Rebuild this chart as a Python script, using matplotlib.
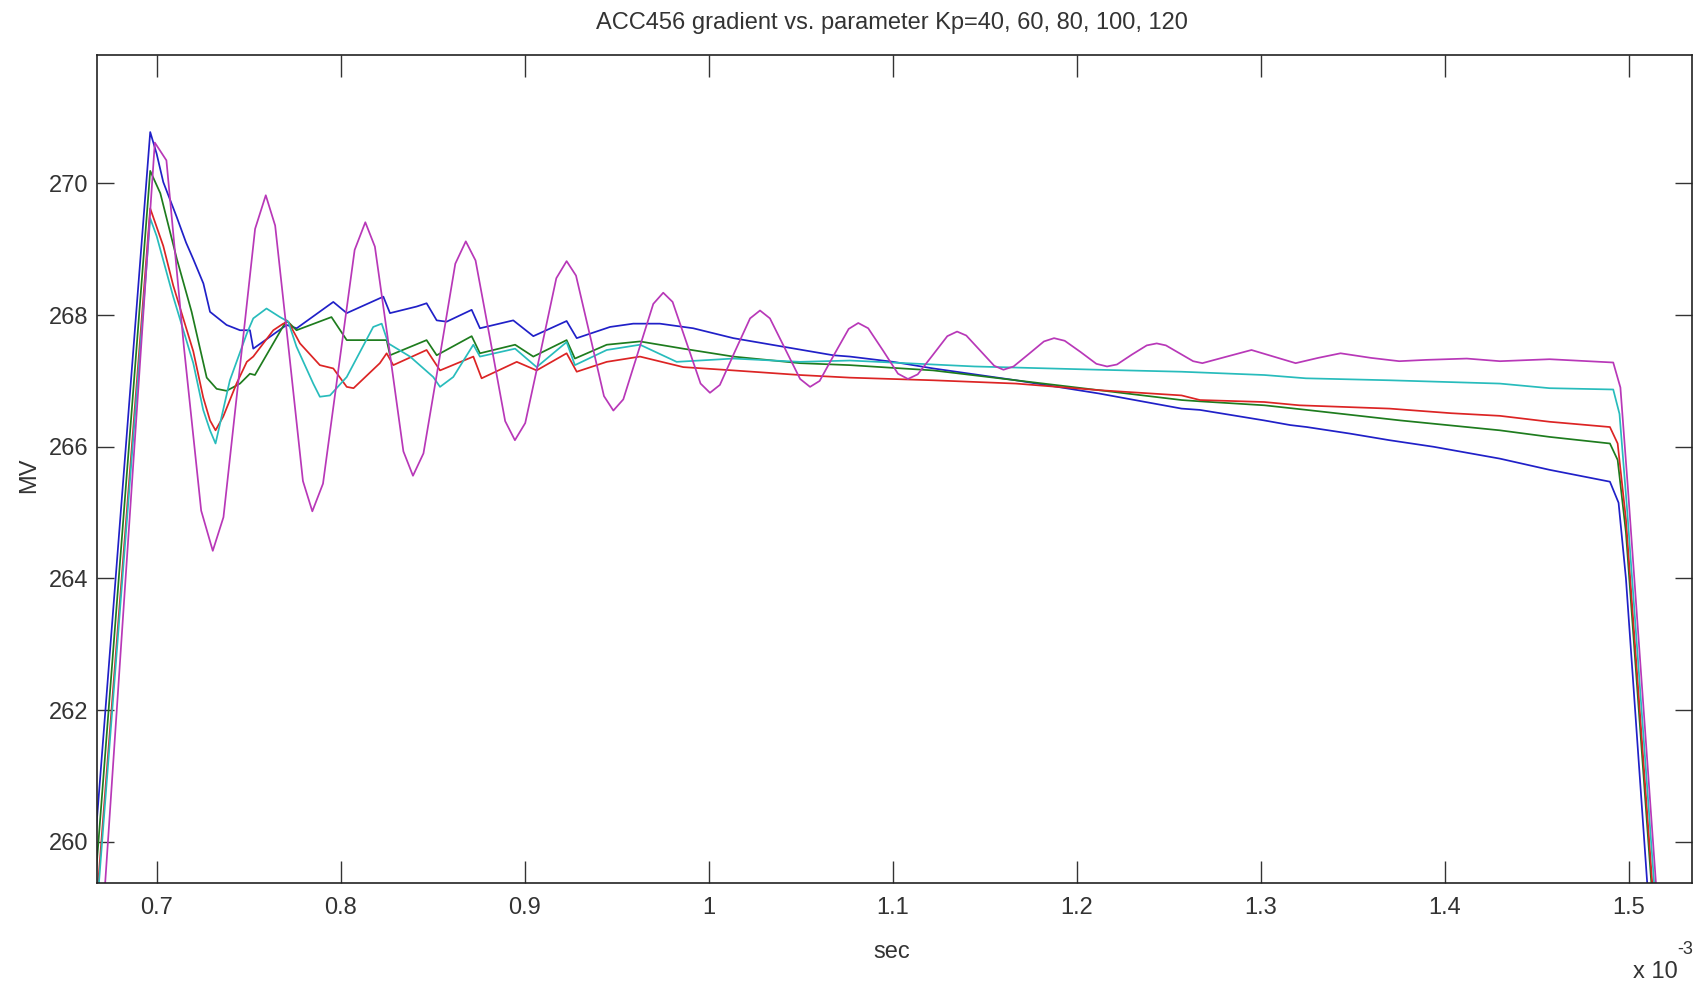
import matplotlib
matplotlib.use("Agg")
import matplotlib.pyplot as plt

plt.rcParams['font.family'] = ['Liberation Sans Narrow', 'Liberation Sans', 'DejaVu Sans']

TITLE = "ACC456 gradient vs. parameter Kp=40, 60, 80, 100, 120"

# time axis in units of 1e-3 sec, values in MV
kp40_t = [0.6620, 0.6965, 0.7000, 0.7036, 0.7109, 0.7160, 0.7199, 0.7254, 0.7290, 0.7380,
          0.7453, 0.7507, 0.7525, 0.7706, 0.7761, 0.7960, 0.8033, 0.8232, 0.8268, 0.8413,
          0.8467, 0.8522, 0.8576, 0.8712, 0.8757, 0.8938, 0.9047, 0.9228, 0.9283, 0.9464,
          0.9590, 0.9735, 0.9916, 1.0134, 1.0405, 1.0677, 1.0768, 1.1003, 1.1220, 1.1670,
          1.2120, 1.2570, 1.2670, 1.3020, 1.3160, 1.3250, 1.3486, 1.3700, 1.3940, 1.4300,
          1.4570, 1.4898, 1.4945, 1.4985, 1.5100, 1.5160]
kp40_v = [258.34, 270.78, 270.45, 270.02, 269.49, 269.10, 268.85, 268.48, 268.05, 267.85,
          267.77, 267.77, 267.49, 267.85, 267.80, 268.20, 268.03, 268.28, 268.03, 268.13,
          268.18, 267.92, 267.90, 268.08, 267.80, 267.92, 267.68, 267.91, 267.65, 267.82,
          267.87, 267.87, 267.80, 267.65, 267.52, 267.39, 267.37, 267.29, 267.19, 267.01,
          266.81, 266.58, 266.56, 266.40, 266.33, 266.30, 266.20, 266.10, 266.00, 265.82,
          265.65, 265.47, 265.15, 264.00, 259.40, 257.30]

kp60_t = [0.6630, 0.6965, 0.7020, 0.7110, 0.7190, 0.7272, 0.7326, 0.7380, 0.7453, 0.7507,
          0.7534, 0.7706, 0.7760, 0.7950, 0.8033, 0.8250, 0.8268, 0.8467, 0.8522, 0.8712,
          0.8757, 0.8948, 0.9047, 0.9228, 0.9273, 0.9446, 0.9627, 0.9862, 1.0134, 1.0496,
          1.0768, 1.1220, 1.1670, 1.2120, 1.2570, 1.2670, 1.3020, 1.3250, 1.3760, 1.4300,
          1.4570, 1.4898, 1.4940, 1.4985, 1.5125, 1.5180]
kp60_v = [258.06, 270.19, 269.85, 268.85, 268.05, 267.05, 266.88, 266.85, 266.96, 267.11,
          267.09, 267.92, 267.77, 267.97, 267.62, 267.62, 267.39, 267.62, 267.39, 267.68,
          267.42, 267.55, 267.37, 267.62, 267.34, 267.55, 267.60, 267.49, 267.37, 267.27,
          267.24, 267.16, 267.01, 266.86, 266.71, 266.69, 266.63, 266.56, 266.40, 266.25,
          266.15, 266.05, 265.80, 264.70, 259.30, 257.20]

kp80_t = [0.6640, 0.6965, 0.7036, 0.7090, 0.7199, 0.7253, 0.7290, 0.7320, 0.7362, 0.7434,
          0.7490, 0.7525, 0.7634, 0.7688, 0.7715, 0.7779, 0.7887, 0.7960, 0.8033, 0.8070,
          0.8213, 0.8250, 0.8286, 0.8467, 0.8540, 0.8721, 0.8766, 0.8957, 0.9065, 0.9228,
          0.9283, 0.9446, 0.9627, 0.9862, 1.0134, 1.0496, 1.0768, 1.1220, 1.1670, 1.2120,
          1.2570, 1.2670, 1.3020, 1.3210, 1.3700, 1.4035, 1.4300, 1.4570, 1.4898, 1.4940,
          1.4985, 1.5130, 1.5180]
kp80_v = [257.85, 269.62, 269.05, 268.45, 267.45, 266.75, 266.40, 266.25, 266.46, 266.96,
          267.29, 267.37, 267.77, 267.87, 267.90, 267.57, 267.24, 267.19, 266.91, 266.89,
          267.27, 267.42, 267.24, 267.47, 267.16, 267.37, 267.04, 267.29, 267.16, 267.42,
          267.14, 267.29, 267.37, 267.21, 267.16, 267.09, 267.05, 267.01, 266.96, 266.86,
          266.78, 266.71, 266.68, 266.63, 266.58, 266.51, 266.47, 266.38, 266.30, 266.05,
          264.90, 259.30, 257.30]

kp100_t = [0.6640, 0.6965, 0.7000, 0.7090, 0.7199, 0.7253, 0.7290, 0.7320, 0.7398, 0.7490,
           0.7525, 0.7597, 0.7670, 0.7715, 0.7760, 0.7851, 0.7887, 0.7942, 0.8033, 0.8177,
           0.8223, 0.8259, 0.8377, 0.8503, 0.8540, 0.8612, 0.8721, 0.8757, 0.8948, 0.9065,
           0.9228, 0.9273, 0.9446, 0.9627, 0.9826, 1.0134, 1.0496, 1.0768, 1.1444, 1.2120,
           1.2570, 1.3020, 1.3246, 1.3700, 1.4300, 1.4570, 1.4916, 1.4950, 1.4990, 1.5140,
           1.5190]
kp100_v = [257.70, 269.47, 269.20, 268.28, 267.27, 266.56, 266.25, 266.05, 267.01, 267.72,
           267.95, 268.10, 267.97, 267.90, 267.52, 266.96, 266.76, 266.78, 267.06, 267.82,
           267.87, 267.57, 267.37, 267.06, 266.91, 267.06, 267.55, 267.37, 267.49, 267.21,
           267.59, 267.24, 267.47, 267.55, 267.29, 267.34, 267.29, 267.31, 267.22, 267.17,
           267.14, 267.09, 267.04, 267.01, 266.96, 266.89, 266.87, 266.50, 265.10, 259.30,
           257.30]

kp120_t = [0.6680, 0.6990, 0.7053, 0.7148, 0.7242, 0.7305, 0.7363, 0.7449, 0.7535, 0.7593,
           0.7644, 0.7720, 0.7795, 0.7846, 0.7904, 0.7990, 0.8076, 0.8134, 0.8186, 0.8264,
           0.8341, 0.8393, 0.8450, 0.8537, 0.8623, 0.8680, 0.8733, 0.8814, 0.8894, 0.8947,
           0.9003, 0.9088, 0.9172, 0.9228, 0.9279, 0.9355, 0.9431, 0.9482, 0.9536, 0.9618,
           0.9699, 0.9753, 0.9804, 0.9880, 0.9956, 1.0007, 1.0061, 1.0143, 1.0225, 1.0279,
           1.0333, 1.0415, 1.0497, 1.0551, 1.0603, 1.0682, 1.0761, 1.0813, 1.0867, 1.0948,
           1.1029, 1.1083, 1.1136, 1.1217, 1.1297, 1.1350, 1.1400, 1.1476, 1.1552, 1.1602,
           1.1657, 1.1740, 1.1822, 1.1877, 1.1935, 1.2021, 1.2107, 1.2165, 1.2219, 1.2300,
           1.2381, 1.2435, 1.2485, 1.2559, 1.2633, 1.2683, 1.2816, 1.2950, 1.3070, 1.3190,
           1.3312, 1.3434, 1.3600, 1.3753, 1.3900, 1.4120, 1.4300, 1.4570, 1.4916, 1.4955,
           1.4995, 1.5150, 1.5200]
kp120_v = [257.70, 270.62, 270.35, 267.52, 265.03, 264.42, 264.93, 267.12, 269.31, 269.82,
           269.36, 267.42, 265.48, 265.02, 265.44, 267.22, 268.99, 269.41, 269.04, 267.49,
           265.93, 265.56, 265.90, 267.34, 268.78, 269.12, 268.83, 267.61, 266.39, 266.10,
           266.36, 267.46, 268.56, 268.82, 268.60, 267.69, 266.77, 266.55, 266.72, 267.45,
           268.17, 268.34, 268.20, 267.58, 266.96, 266.82, 266.94, 267.45, 267.95, 268.07,
           267.95, 267.49, 267.03, 266.91, 267.00, 267.40, 267.79, 267.88, 267.80, 267.46,
           267.11, 267.03, 267.10, 267.39, 267.68, 267.75, 267.69, 267.46, 267.23, 267.17,
           267.22, 267.41, 267.60, 267.65, 267.61, 267.44, 267.26, 267.22, 267.25, 267.40,
           267.54, 267.57, 267.54, 267.42, 267.30, 267.27, 267.37, 267.47, 267.37, 267.27,
           267.35, 267.42, 267.35, 267.30, 267.32, 267.34, 267.30, 267.33, 267.28, 266.90,
           265.40, 259.30, 257.30]

series = [(kp40_t, kp40_v, "#2020c8"),
          (kp60_t, kp60_v, "#1e7c1e"),
          (kp80_t, kp80_v, "#dc2424"),
          (kp100_t, kp100_v, "#28bcbc"),
          (kp120_t, kp120_v, "#b838b8")]

x_ticks = [0.7, 0.8, 0.9, 1.0, 1.1, 1.2, 1.3, 1.4, 1.5]
x_labels = ["0.7", "0.8", "0.9", "1", "1.1", "1.2", "1.3", "1.4", "1.5"]
y_ticks = [260, 262, 264, 266, 268, 270]

fig = plt.figure(figsize=(16.93, 9.86), dpi=100)
ax = fig.add_axes([0.0571, 0.1048, 0.9423, 0.8394])

for t, v, c in series:
    ax.plot(t, v, color=c, linewidth=1.25)

ax.set_xlim(0.6674, 1.5344)
ax.set_ylim(259.38, 271.95)
ax.set_xticks(x_ticks)
ax.set_xticklabels(x_labels)
ax.set_yticks(y_ticks)
ax.tick_params(axis='x', direction='in', length=16, width=1.0, top=True,
               labelsize=17, pad=10, colors='#333333')
ax.tick_params(axis='y', direction='in', length=12, width=1.0, right=True,
               labelsize=17, pad=6, colors='#333333')
for s in ax.spines.values():
    s.set_linewidth(1.2)
    s.set_color('#222222')

fig.text(0.527, 1 - 22.5 / 986, TITLE, ha='center', va='center', fontsize=17, color='#333333')
fig.text(892 / 1693, 1 - 952 / 986, "sec", ha='center', va='center', fontsize=17, color='#333333')
fig.text(29 / 1693, 1 - 475 / 986, "MV", ha='center', va='center', rotation=90,
         fontsize=17, color='#333333')
fig.text(1655 / 1693, 1 - 972 / 986, "x 10", ha='center', va='center', fontsize=17, color='#333333')
fig.text(1685 / 1693, 1 - 950 / 986, "-3", ha='center', va='center', fontsize=13, color='#333333')

fig.savefig("out.png", dpi=100)
